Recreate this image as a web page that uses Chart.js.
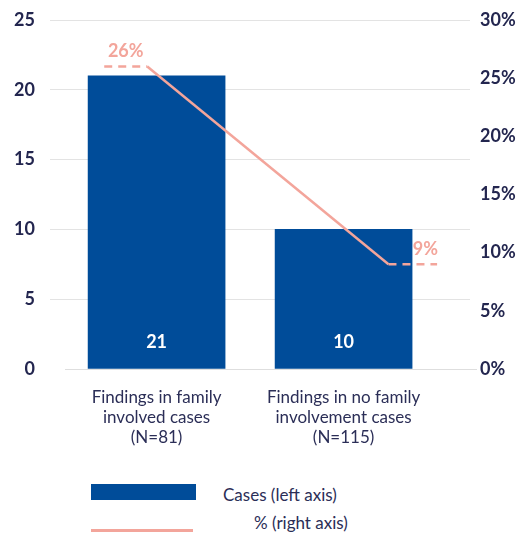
<!DOCTYPE html>
<html>
<head>
<meta charset="utf-8">
<script src="https://cdn.jsdelivr.net/npm/chart.js@4/dist/chart.umd.min.js"></script>
<style>
  body { margin: 0; background: #fff; font-family: Lato, sans-serif; }
  #wrap { position: relative; width: 521px; height: 538px; }
  canvas { position: absolute; left: 0; top: 0; }
  .key { position: absolute; }
  .lbl { position: absolute; font-size: 17px; color: #2b2e57; line-height: 20px; }
</style>
</head>
<body>
<div id="wrap">
  <canvas id="chart" width="521" height="470"></canvas>
  <div class="key" style="left:91px;top:484px;width:105px;height:16px;background:#004c99"></div>
  <div class="lbl" style="left:223px;top:485px">Cases (left axis)</div>
  <div class="key" style="left:91px;top:529px;width:102px;height:3px;background:#f3a59b"></div>
  <div class="lbl" style="left:254px;top:513px">% (right axis)</div>
</div>
<script>
// categories and values
const categories = [
    ['Findings in family', 'involved cases', '(N=81)'],
    ['Findings in no family', 'involvement cases', '(N=115)']
];
const cases = [21, 10];
const pct = [26, 9];

// where each % marker sits along the x axis (left end, right end)
const pctSpan = [[-0.28, -0.05], [1.24, 1.5]];

const blue = '#004c99';
const pink = '#f3a59b';
const ink = '#23264f';

// flat marker, slope, flat marker
const pctPoints = [];
pct.forEach((v, i) => {
    pctPoints.push({ x: pctSpan[i][0], y: v });
    pctPoints.push({ x: pctSpan[i][1], y: v });
});

const labelsPlugin = {
    id: 'labels',
    beforeDatasetsDraw(chart) {
        const c = chart.ctx;
        const y0 = chart.scales.y.getPixelForValue(0);
        c.save();
        c.strokeStyle = '#dedede';
        c.lineWidth = 1;
        c.beginPath();
        c.moveTo(chart.chartArea.left + 15, y0 + 0.5);
        c.lineTo(chart.chartArea.right + 7, y0 + 0.5);
        c.stroke();
        c.restore();
    },
    afterDatasetsDraw(chart) {
        const c = chart.ctx;
        const x = chart.scales.x, y = chart.scales.y, yp = chart.scales.yPct;
        c.save();
        c.font = 'bold 18px Lato';
        c.fillStyle = '#fff';
        c.textAlign = 'center';
        c.textBaseline = 'middle';
        chart.getDatasetMeta(1).data.forEach((bar, i) => {
            c.fillText(cases[i], bar.x, y.getPixelForValue(0) - 27);
        });
        c.fillStyle = pink;
        pct.forEach((v, i) => {
            const mid = x.getPixelForValue((pctSpan[i][0] + pctSpan[i][1]) / 2);
            c.textAlign = i === 0 ? 'center' : 'left';
            c.fillText(v + '%', mid, yp.getPixelForValue(v) - 15);
        });
        c.restore();
    }
};

new Chart(document.getElementById('chart'), {
    type: 'bar',
    data: {
        datasets: [{
            type: 'line',
            data: pctPoints,
            yAxisID: 'yPct',
            borderColor: pink,
            borderWidth: 2.5,
            pointRadius: 0,
            order: 0,
            segment: {
                borderDash: ctx => ctx.p0DataIndex === 1 ? undefined : [8, 6]
            }
        }, {
            data: cases.map((v, i) => ({ x: i, y: v })),
            yAxisID: 'y',
            backgroundColor: blue,
            barThickness: 137,
            order: 1
        }]
    },
    options: {
        responsive: false,
        animation: false,
        devicePixelRatio: 1,
        layout: { padding: { top: 20, left: 0, right: 0, bottom: 0 } },
        plugins: { legend: { display: false }, tooltip: { enabled: false } },
        scales: {
            x: {
                type: 'linear',
                offset: false,
                bounds: 'data',
                min: -0.57,
                max: 1.676,
                grid: { display: false },
                border: { display: false },
                afterBuildTicks: s => { s.ticks = [{ value: 0 }, { value: 1 }]; },
                afterFit: s => { s.height = 101; },
                ticks: {
                    autoSkip: false,
                    maxRotation: 0,
                    padding: 10,
                    color: '#2b2e57',
                    font: { family: 'Lato', size: 17, lineHeight: 1.18 },
                    callback: v => categories[v]
                }
            },
            y: {
                position: 'left',
                min: 0,
                max: 25,
                grid: {
                    color: ctx => ctx.tick.value === 0 ? 'rgba(0,0,0,0)' : '#e3e3e3',
                    drawTicks: false
                },
                border: { display: false },
                afterFit: s => { s.width = 50; },
                ticks: {
                    stepSize: 5,
                    padding: 15,
                    color: ink,
                    font: { family: 'Lato', size: 18, weight: 'bold', lineHeight: 0.5 }
                }
            },
            yPct: {
                position: 'right',
                min: 0,
                max: 30,
                grid: { display: false, drawTicks: false },
                border: { display: false },
                afterFit: s => { s.width = 51; },
                ticks: {
                    stepSize: 5,
                    padding: 10,
                    color: ink,
                    font: { family: 'Lato', size: 18, weight: 'bold', lineHeight: 0.5 },
                    callback: v => v + '%'
                }
            }
        }
    },
    plugins: [labelsPlugin]
});
</script>
</body>
</html>
